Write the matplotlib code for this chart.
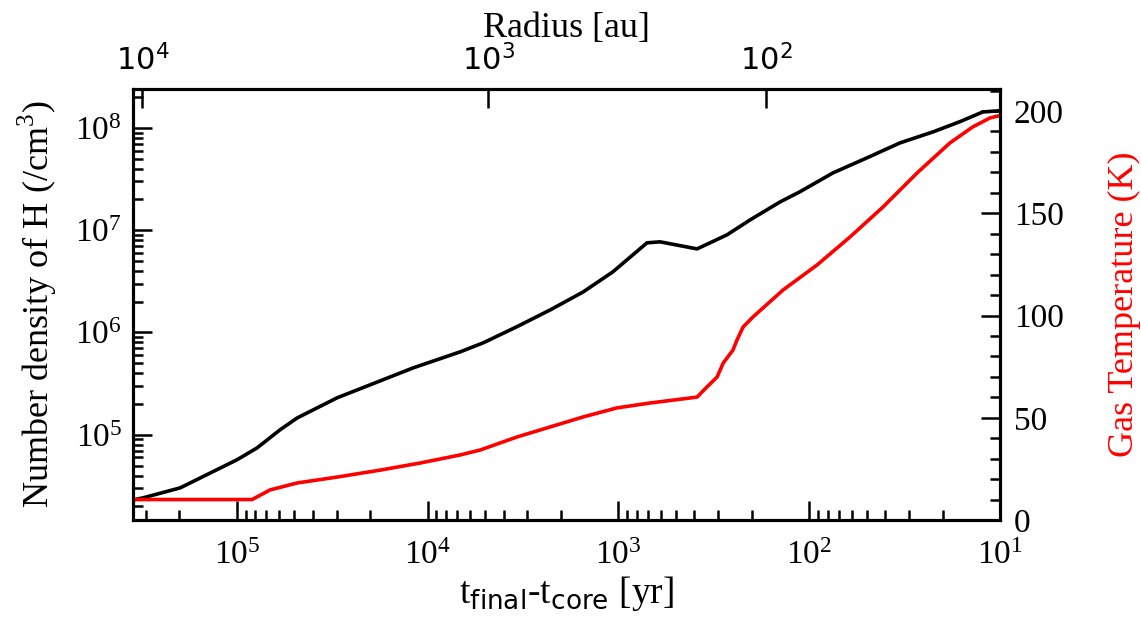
import numpy as np
import matplotlib
matplotlib.use("Agg")
import matplotlib.pyplot as plt
from matplotlib.ticker import LogLocator, NullLocator, FixedLocator, FixedFormatter, MultipleLocator

plt.rcParams["font.family"] = ["Liberation Serif", "DejaVu Serif"]
plt.rcParams["mathtext.fontset"] = "dejavusans"

# density of H (black), vs t_final - t_core [yr]
t_dens = [3.49e5, 3.10e5, 1.98e5, 1.0e5, 7.83e4, 5.93e4, 4.83e4, 2.98e4, 2.00e4,
          1.19e4, 6.76e3, 5.12e3, 3.40e3, 2.28e3, 1.53e3, 1.07e3, 708, 605, 387,
          270, 204, 142, 112, 75.0, 49.8, 33.4, 22.4, 16.2, 12.3, 10.0]
dens = [2.31e4, 2.42e4, 3.03e4, 5.69e4, 7.45e4, 1.12e5, 1.46e5, 2.30e5, 3.08e5,
        4.51e5, 6.46e5, 7.91e5, 1.14e6, 1.66e6, 2.49e6, 3.91e6, 7.52e6, 7.69e6,
        6.56e6, 8.99e6, 1.26e7, 1.89e7, 2.37e7, 3.63e7, 5.09e7, 7.13e7, 9.14e7,
        1.15e8, 1.43e8, 1.47e8]

# gas temperature (red)
t_temp = [3.49e5, 8.32e4, 6.70e4, 4.83e4, 2.98e4, 1.77e4, 1.09e4, 6.76e3, 5.31e3,
          3.40e3, 2.28e3, 1.53e3, 1.02e3, 684, 387, 344, 304, 282, 251, 239, 222,
          197, 137, 91.0, 61.1, 41.0, 27.2, 18.3, 13.9, 11.3, 10.2]
temp = [10, 10, 14.7, 18.1, 21.0, 24.4, 27.9, 31.8, 34.2, 40.6, 45.5, 50.4, 54.8,
        57.2, 60.1, 65.0, 69.9, 76.8, 83.1, 88.0, 94.4, 99.3, 112.5, 124.7, 138.4,
        153.1, 169.7, 184.4, 192.2, 196.6, 197.6]

# top axis: radius labels and the times where they fall
radius_labels = [r"$10^{4}$", r"$10^{3}$", r"$10^{2}$"]
radius_times = [3.13e5, 4.82e3, 168]

XLIM = (3.5e5, 10)

fig = plt.figure(figsize=(11.41, 6.22), dpi=100)
ax = fig.add_axes([0.1166, 0.164, 0.7598, 0.693])

ax.plot(t_dens, dens, color="black", lw=2.6)
ax.set_xscale("log")
ax.set_yscale("log")
ax.set_xlim(*XLIM)
ax.set_ylim(1.47e4, 2.4e8)
ax.set_xlabel(r"t$_{\rm final}$-t$_{\rm core}$ [yr]", fontsize=27, labelpad=2)
ax.set_ylabel(r"Number density of H (/cm$^{\mathdefault{3}}$)", fontsize=26,
              labelpad=12)
ax.xaxis.set_minor_locator(LogLocator(base=10, subs=np.arange(2, 10), numticks=20))
ax.yaxis.set_minor_locator(LogLocator(base=10, subs=np.arange(2, 10), numticks=20))
ax.tick_params(which="both", direction="in", top=False, right=False,
               labelsize=24, width=1.8, pad=8)
ax.tick_params(axis="x", which="both", pad=15)
ax.tick_params(which="major", length=14)
ax.tick_params(which="minor", length=7)

ax2 = ax.twinx()
ax2.plot(t_temp, temp, color="red", lw=2.6)
ax2.set_ylim(0, 210.8)
ax2.yaxis.set_major_locator(MultipleLocator(50))
ax2.yaxis.set_minor_locator(MultipleLocator(10))
ax2.set_ylabel("Gas Temperature (K)", color="red", fontsize=26, labelpad=32)
ax2.tick_params(which="both", direction="in", labelsize=24, width=1.8, pad=10)
ax2.tick_params(which="major", length=14)
ax2.tick_params(which="minor", length=7)

ax3 = ax.twiny()
ax3.set_xscale("log")
ax3.set_xlim(*XLIM)
ax3.xaxis.set_major_locator(FixedLocator(radius_times))
ax3.xaxis.set_major_formatter(FixedFormatter(radius_labels))
ax3.xaxis.set_minor_locator(NullLocator())
ax3.set_xlabel("Radius [au]", fontsize=26, labelpad=6)
ax3.tick_params(which="major", direction="in", length=14, width=1.8,
                labelsize=22, pad=8)

for a in (ax, ax2, ax3):
    for s in a.spines.values():
        s.set_linewidth(2.2)

fig.savefig("out.png", dpi=100)
